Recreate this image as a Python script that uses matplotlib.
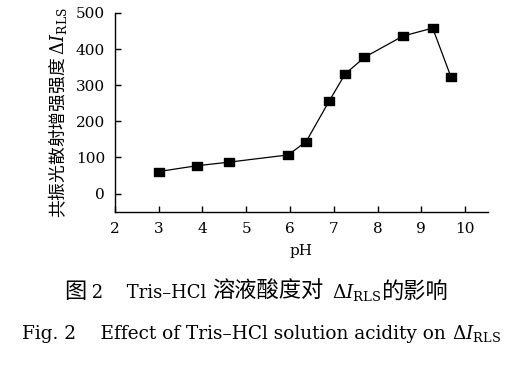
import matplotlib
matplotlib.use("Agg")
import matplotlib.pyplot as plt
from matplotlib.path import Path

plt.rcParams['font.family'] = ['DejaVu Serif', 'Noto Sans CJK SC', 'DejaVu Sans']
plt.rcParams['mathtext.fontset'] = 'dejavuserif'

ph = [3.0, 3.87, 4.61, 5.96, 6.37, 6.89, 7.26, 7.70, 8.58, 9.26, 9.68]
intensity = [61, 77, 87, 107, 144, 255, 331, 377, 436, 458, 322]
xticks = [2, 3, 4, 5, 6, 7, 8, 9, 10]
yticks = [0, 100, 200, 300, 400, 500]

fig = plt.figure(figsize=(5.32, 3.77), dpi=100)
ax = fig.add_axes([0.216, 0.4377, 0.701, 0.528])

rect = Path([(-0.7, -0.5), (0.7, -0.5), (0.7, 0.5), (-0.7, 0.5), (-0.7, -0.5)],
            [Path.MOVETO, Path.LINETO, Path.LINETO, Path.LINETO, Path.CLOSEPOLY])
ax.plot(ph, intensity, color='black', lw=0.9, marker=rect, markersize=7.3,
        markerfacecolor='black', markeredgecolor='black')

ax.set_xlim(2, 10.52)
ax.set_ylim(-51, 500)
ax.set_xticks(xticks)
ax.set_yticks(yticks)
ax.spines['top'].set_visible(False)
ax.spines['right'].set_visible(False)
for s in ('left', 'bottom'):
    ax.spines[s].set_linewidth(1.0)
ax.tick_params(direction='in', length=4, width=1.0, labelsize=11)
ax.tick_params(axis='y', pad=7)
ax.tick_params(axis='x', pad=7)

ax.set_xlabel('pH', fontsize=11, labelpad=6)
ax.set_ylabel('共振光散射增强强度 $\\Delta I_{\\rm RLS}$', fontsize=12.8, labelpad=5,
              family=['Noto Sans CJK SC', 'DejaVu Sans'])

renderer = fig.canvas.get_renderer()
CJK = ['Noto Sans CJK SC']
SERIF = ['DejaVu Serif']


def chain(pieces, x0, y):
    x = x0
    for s, fam, size in pieces:
        t = fig.text(x, y, s, ha='left', va='baseline', fontsize=size,
                     family=fam, transform=None)
        x += t.get_window_extent(renderer).width


H = 377
chain([('图', CJK, 16),
       (' 2', SERIF, 13),
       ('\u2003 Tris–HCl ', SERIF, 13),
       ('溶液酸度对', CJK, 16),
       ('  ', SERIF, 9),
       ('$\\Delta I_{\\rm RLS}$', SERIF, 13.5),
       ('的影响', CJK, 16)], 64, H - 298)
chain([('Fig. 2\u2003 Effect of Tris–HCl solution acidity on ', SERIF, 13.3),
       ('$\\Delta I_{\\rm RLS}$', SERIF, 13.3)], 22, H - 339)

fig.savefig('out.png', dpi=100)
